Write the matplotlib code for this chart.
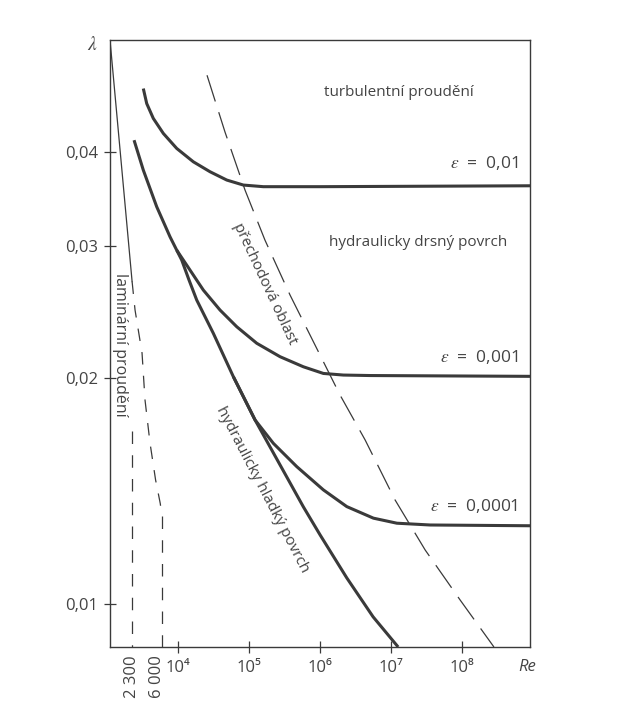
import matplotlib
matplotlib.use('Agg')

import matplotlib.pyplot as plt
import matplotlib.transforms as mtransforms

plt.rcParams['font.family'] = ['Open Sans', 'DejaVu Sans']
plt.rcParams['mathtext.fontset'] = 'stix'

INK = '#3a3a3a'
TXT = '#444444'

# laminar flow: solid part and dashed continuation
lam_re = [1120, 2290]
lam_lambda = [0.0565, 0.0269]
lam_dash_re = [2290, 2520, 3160, 3480, 4090, 4900, 5700, 6000]
lam_dash_lambda = [0.0269, 0.02464, 0.02159, 0.01869, 0.01638, 0.01462, 0.0136, 0.0131]

# critical Reynolds numbers (vertical dashed lines)
crit_re = [2300, 6000]
crit_top = [0.0170, 0.0131]
crit_labels = ['2 300', '6 000']

# hydraulically smooth pipe
smooth_re = [2440, 3293, 5080, 7820, 9712, 11420, 14470, 18560, 31780,
             60730, 122600, 275600, 586000, 1.006e6, 2.389e6, 5.6e6, 1.26e7]
smooth_lambda = [0.04153, 0.03788, 0.03385, 0.03086, 0.02962, 0.02873,
                 0.02702, 0.02541, 0.02294, 0.02008, 0.01758, 0.01531,
                 0.01346, 0.01235, 0.01082, 0.0096, 0.00875]

# rough pipes
eps01_re = [3293, 3677, 4552, 6294, 9712, 16630, 28560, 49100, 84000,
            160400, 1e6, 9e8]
eps01_lambda = [0.04867, 0.04648, 0.04440, 0.04240, 0.04049, 0.03886,
                0.03769, 0.03674, 0.03618, 0.03600, 0.0360, 0.0361]

eps001_re = [9712, 14940, 22990, 39480, 67790, 129600, 275600, 586000,
             1.12e6, 2.14e6, 5.08e6, 9e8]
eps001_lambda = [0.02962, 0.02786, 0.02620, 0.02464, 0.02341, 0.02225,
                 0.02135, 0.0207, 0.02028, 0.02018, 0.02015, 0.0201]

eps0001_re = [60730, 122600, 221800, 473300, 1.12e6, 2.389e6, 5.66e6,
              1.21e7, 3.55e7, 9e8]
eps0001_lambda = [0.02008, 0.01758, 0.01636, 0.01523, 0.01418, 0.01347,
                  0.0130, 0.0128, 0.01273, 0.0127]

# boundary of the transition region
trans_re = [25900, 46400, 88700, 169000, 381000, 855000, 1.92e6, 4.33e6,
            1.14e7, 3.02e7, 9.37e7, 2.8e8]
trans_lambda = [0.0507, 0.04257, 0.03562, 0.03055, 0.0258, 0.02213,
                0.01898, 0.01653, 0.01375, 0.01179, 0.01011, 0.00875]

y_ticks = [0.01, 0.02, 0.03, 0.04]
y_labels = ['0,01', '0,02', '0,03', '0,04']
x_ticks = [1e4, 1e5, 1e6, 1e7, 1e8]
x_labels = ['10⁴', '10⁵', '10⁶', '10⁷', '10⁸']

fig = plt.figure(figsize=(6.17, 7.04), dpi=100)
ax = fig.add_axes([110 / 617, 57 / 704, 420 / 617, 607 / 704])
ax.set_xscale('log')
ax.set_yscale('log')
ax.set_xlim(1120, 9e8)
ax.set_ylim(0.00875, 0.0565)

thick = dict(color=INK, lw=2.2, solid_capstyle='butt', solid_joinstyle='round')
ax.plot(smooth_re, smooth_lambda, **thick)
ax.plot(eps01_re, eps01_lambda, **thick)
ax.plot(eps001_re, eps001_lambda, **thick)
ax.plot(eps0001_re, eps0001_lambda, **thick)

ax.plot(lam_re, lam_lambda, color=INK, lw=0.9)
ax.plot(lam_dash_re, lam_dash_lambda, color=INK, lw=0.9, ls=(0, (10, 9)))
for re, top in zip(crit_re, crit_top):
    ax.plot([re, re], [top, 0.00875], color=INK, lw=0.9, ls=(0, (10, 9)))

ax.plot(trans_re, trans_lambda, color=INK, lw=0.9, ls=(0, (22, 9)))

ax.minorticks_off()
ax.set_yticks(y_ticks)
ax.set_yticklabels(y_labels)
ax.set_xticks(x_ticks)
ax.set_xticklabels(x_labels)
ax.tick_params(direction='inout', length=9, width=0.9, color=INK,
               labelcolor=TXT, labelsize=12)
ax.tick_params(axis='y', pad=4)
ax.tick_params(axis='x', pad=5)
for sp in ax.spines.values():
    sp.set_color(INK)
    sp.set_linewidth(1.0)

xt = ax.get_xaxis_transform()
shifts = [0, -5]
for re, lab, dx in zip(crit_re, crit_labels, shifts):
    tr = mtransforms.offset_copy(xt, fig=fig, x=dx, y=0, units='dots')
    ax.text(re, -0.014, lab, transform=tr, rotation=90, ha='center',
            va='top', fontsize=12, color=TXT)

fig.text(527 / 617, 1 - 667 / 704, 'Re', style='italic', fontsize=12,
         color=TXT, ha='center', va='center')
fig.text(92 / 617, 1 - 45 / 704, r'$\lambda$', fontsize=14, color=TXT,
         ha='center', va='center')

txt = dict(color=TXT, fontsize=11, ha='center', va='center')
ax.text(0.688, 0.913, 'turbulentní proudění', transform=ax.transAxes, **txt)
ax.text(0.7345, 0.667, 'hydraulicky drsný povrch', transform=ax.transAxes, **txt)
eps = dict(color=TXT, fontsize=12.5, ha='right', va='center',
           transform=ax.transAxes)
ax.text(0.971, 0.797, r'$\varepsilon$  =  0,01', **eps)
ax.text(0.971, 0.478, r'$\varepsilon$  =  0,001', **eps)
ax.text(0.971, 0.232, r'$\varepsilon$  =  0,0001', **eps)
ax.text(0.0238, 0.497, 'laminární proudění', transform=ax.transAxes,
        rotation=-90, color=TXT, fontsize=11.5, ha='center', va='center')
ax.text(0.369, 0.598, 'přechodová oblast', transform=ax.transAxes,
        rotation=-65, rotation_mode='anchor', **txt)
ax.text(0.362, 0.259, 'hydraulicky hladký povrch', transform=ax.transAxes,
        rotation=-62.5, rotation_mode='anchor', **txt)

fig.savefig('out.png', dpi=100, facecolor='white')
plt.close(fig)
